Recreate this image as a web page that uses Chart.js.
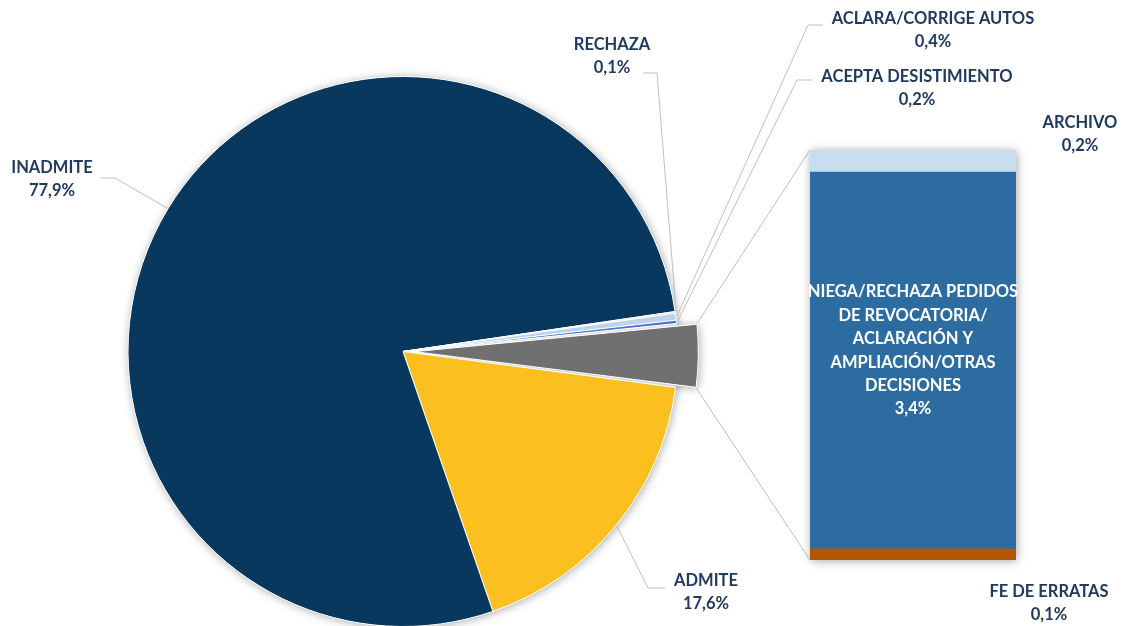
<!DOCTYPE html>
<html><head><meta charset="utf-8">
<script src="https://cdn.jsdelivr.net/npm/chart.js@4"></script>
<style>
html,body{margin:0;padding:0;background:#fff;}
#wrap{position:relative;width:1124px;height:626px;overflow:hidden;background:#fff;}
#pie{position:absolute;left:0;top:0;z-index:0;}
#bar{position:absolute;left:790px;top:130px;z-index:1;}
</style></head><body>
<div id="wrap"><canvas id="pie" width="1124" height="626"></canvas><canvas id="bar" width="246" height="450"></canvas></div>
<script>
// ---- data ----
const pieLabels = ['ADMITE', 'INADMITE', 'RECHAZA', 'ACLARA/CORRIGE AUTOS', 'ACEPTA DESISTIMIENTO'];
const pieValues = [17.6, 77.9, 0.1, 0.4, 0.2];
const barLabels = ['FE DE ERRATAS', 'NIEGA/RECHAZA PEDIDOS DE REVOCATORIA/ ACLARACIÓN Y AMPLIACIÓN/OTRAS DECISIONES', 'ARCHIVO'];
const barLabelLines = [['FE DE ERRATAS'], ['NIEGA/RECHAZA PEDIDOS', 'DE REVOCATORIA/', 'ACLARACIÓN Y', 'AMPLIACIÓN/OTRAS', 'DECISIONES'], ['ARCHIVO']];
const barValues = [0.1, 3.4, 0.2];

// ---- styles ----
const pieColors = ['#FBBF1F', '#08385E', '#D6DEE8', '#BDD3EB', '#4A7BD0', '#707070'];
const barColors = ['#B25708', '#2D6CA1', '#C6DEEF'];
const textColor = '#203A60';
const lineColor = '#BFBFBF';
const FONT = 'bold 16.5px Lato, "Open Sans", sans-serif';

const otherTotal = barValues.reduce((a, b) => a + b, 0);
const allPieLabels = pieLabels.concat(['OTRAS']);
const allPieValues = pieValues.concat([otherTotal]);
const fmt = v => v.toFixed(1).replace('.', ',') + '%';

const BAR_LEFT = 790, BAR_TOP = 130;

// label layout (pixel positions of text, and elbow points of leader lines)
const pieLabelLayout = {
  'INADMITE': { x: 52, y: 168, elbow: [[100, 178], [115, 178]] },
  'RECHAZA': { x: 612, y: 45, elbow: [[643, 73], [657, 73]] },
  'ACLARA/CORRIGE AUTOS': { x: 933, y: 19, elbow: [[823, 25], [808, 25]] },
  'ACEPTA DESISTIMIENTO': { x: 917, y: 77, elbow: [[812, 80], [797, 80]] },
  'ADMITE': { x: 706, y: 581, elbow: [[665, 588], [648, 588]] }
};
const barLabelLayout = {
  'ARCHIVO': { x: 1080, y: 123 },
  'FE DE ERRATAS': { x: 1049, y: 592 }
};

// ---- bar chart ----
const barShadow = {
  id: 'barShadow',
  beforeDatasetsDraw(chart) {
    const ctx = chart.ctx, a = chart.chartArea, y = chart.scales.y;
    const top = y.getPixelForValue(otherTotal), bot = y.getPixelForValue(0);
    ctx.save();
    ctx.shadowColor = 'rgba(0,0,0,0.35)';
    ctx.shadowBlur = 9;
    ctx.shadowOffsetX = 1; ctx.shadowOffsetY = 1;
    ctx.fillStyle = '#fff';
    ctx.fillRect(a.left, top, a.right - a.left, bot - top);
    ctx.restore();
  },
  afterDatasetsDraw(chart) {
    const ctx = chart.ctx;
    const el = chart.getDatasetMeta(1).data[0];
    const cy = (el.y + el.base) / 2 - 10;
    const lines = barLabelLines[1].concat([fmt(barValues[1])]);
    ctx.save();
    ctx.font = FONT;
    ctx.fillStyle = '#fff';
    ctx.textAlign = 'center';
    ctx.textBaseline = 'middle';
    const lh = 23.4;
    lines.forEach((t, i) => ctx.fillText(t, el.x, cy + (i - (lines.length - 1) / 2) * lh));
    ctx.restore();
  }
};

const barChart = new Chart(document.getElementById('bar'), {
  type: 'bar',
  data: {
    labels: [''],
    datasets: barLabels.map((l, i) => ({
      label: l, data: [barValues[i]], backgroundColor: barColors[i],
      borderWidth: 0, barPercentage: 1, categoryPercentage: 1
    }))
  },
  options: {
    responsive: false, animation: false, devicePixelRatio: 1,
    layout: { padding: { left: 20, right: 20, top: 20, bottom: 20 } },
    scales: {
      x: { stacked: true, display: false },
      y: { stacked: true, display: false, min: 0, max: otherTotal }
    },
    plugins: { legend: { display: false }, tooltip: { enabled: false } }
  },
  plugins: [barShadow]
});

// ---- pie chart ----
function arcShift(el) {
  const off = (el.options.offset || 0) / 4;
  const circ = el.endAngle - el.startAngle;
  const fix = 1 - Math.sin(Math.min(Math.PI, circ || 0));
  return off * (1 + fix);
}

const piePlugin = {
  id: 'piePlugin',
  beforeDatasetsDraw(chart) {
    const ctx = chart.ctx;
    const el = chart.getDatasetMeta(0).data[0];
    ctx.save();
    ctx.shadowColor = 'rgba(0,0,0,0.35)';
    ctx.shadowBlur = 10;
    ctx.shadowOffsetX = 1; ctx.shadowOffsetY = 1;
    ctx.fillStyle = '#fff';
    ctx.beginPath();
    ctx.arc(el.x, el.y, el.outerRadius, 0, Math.PI * 2);
    ctx.fill();
    const g = chart.getDatasetMeta(0).data[5];
    const s = arcShift(g), mid = (g.startAngle + g.endAngle) / 2;
    const gx = g.x + Math.cos(mid) * s, gy = g.y + Math.sin(mid) * s;
    ctx.beginPath();
    ctx.moveTo(gx, gy);
    ctx.arc(gx, gy, g.outerRadius, g.startAngle, g.endAngle);
    ctx.closePath();
    ctx.fill();
    ctx.restore();
  },
  afterDatasetsDraw(chart) {
    const ctx = chart.ctx;
    const meta = chart.getDatasetMeta(0);
    ctx.save();
    ctx.strokeStyle = lineColor;
    ctx.lineWidth = 1;
    const g = meta.data[5];
    const s = arcShift(g), mid = (g.startAngle + g.endAngle) / 2;
    const gx = g.x + Math.cos(mid) * s, gy = g.y + Math.sin(mid) * s;
    const p1 = [gx + Math.cos(g.startAngle) * g.outerRadius, gy + Math.sin(g.startAngle) * g.outerRadius];
    const p2 = [gx + Math.cos(g.endAngle) * g.outerRadius, gy + Math.sin(g.endAngle) * g.outerRadius];
    const ba = barChart.chartArea, by = barChart.scales.y;
    const bTop = BAR_TOP + by.getPixelForValue(otherTotal), bBot = BAR_TOP + by.getPixelForValue(0);
    const bLeft = BAR_LEFT + ba.left;
    ctx.beginPath();
    ctx.moveTo(p1[0], p1[1]); ctx.lineTo(bLeft, bTop);
    ctx.moveTo(p2[0], p2[1]); ctx.lineTo(bLeft, bBot);
    ctx.stroke();
    pieLabels.forEach((lab, i) => {
      const L = pieLabelLayout[lab];
      const el = meta.data[i];
      const m = (el.startAngle + el.endAngle) / 2;
      const ex = el.x + Math.cos(m) * (el.outerRadius + 1), ey = el.y + Math.sin(m) * (el.outerRadius + 1);
      ctx.beginPath();
      ctx.moveTo(L.elbow[0][0], L.elbow[0][1]);
      ctx.lineTo(L.elbow[1][0], L.elbow[1][1]);
      ctx.lineTo(ex, ey);
      ctx.stroke();
    });
    ctx.font = FONT;
    ctx.fillStyle = textColor;
    ctx.textAlign = 'center';
    ctx.textBaseline = 'middle';
    pieLabels.forEach((lab, i) => {
      const L = pieLabelLayout[lab];
      ctx.fillText(lab, L.x, L.y);
      ctx.fillText(fmt(pieValues[i]), L.x, L.y + 23);
    });
    [0, 2].forEach(i => {
      const L = barLabelLayout[barLabels[i]];
      ctx.fillText(barLabelLines[i][0], L.x, L.y);
      ctx.fillText(fmt(barValues[i]), L.x, L.y + 23);
    });
    ctx.restore();
  }
};

const pieChart = new Chart(document.getElementById('pie'), {
  type: 'pie',
  data: {
    labels: allPieLabels,
    datasets: [{
      data: allPieValues,
      backgroundColor: pieColors,
      borderColor: '#fff',
      borderWidth: 1,
      offset: [0, 0, 0, 0, 0, 46]
    }]
  },
  options: {
    responsive: false, animation: false, devicePixelRatio: 1,
    rotation: 97.5,
    radius: 275,
    layout: { padding: { left: 128, right: 446, top: 77, bottom: 0 } },
    plugins: { legend: { display: false }, tooltip: { enabled: false } }
  },
  plugins: [piePlugin]
});
</script>
</body></html>
